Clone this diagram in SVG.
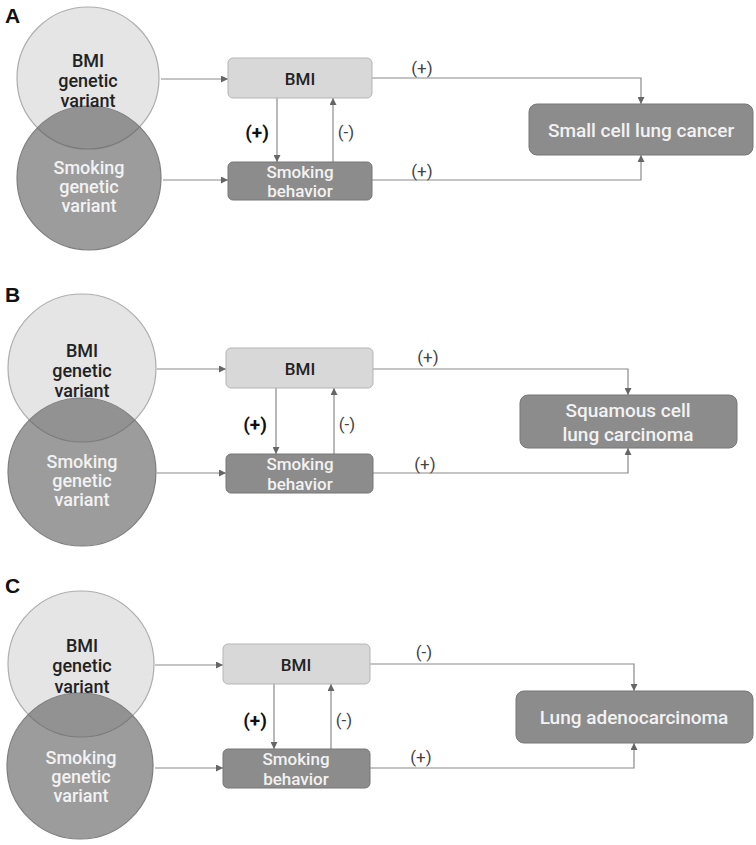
<svg xmlns="http://www.w3.org/2000/svg" width="756" height="845" viewBox="0 0 756 845">
<defs>
<marker id="ah" viewBox="0 0 8 8" refX="8" refY="4" markerWidth="7" markerHeight="7" markerUnits="userSpaceOnUse" orient="auto">
<path d="M0,0 L8,4 L0,8 z" fill="#666"/>
</marker>
<style>
.panel{font-family:"Liberation Sans",Arial,sans-serif;font-weight:bold;font-size:21px;fill:#111}
.c1{fill:#e5e5e5;stroke:#adadad;stroke-width:1.2}
.c2{fill:#5a5a5a;fill-opacity:0.6;stroke:#7e7e7e;stroke-width:1.2}
.t{font-family:Roboto,"Noto Sans",sans-serif;font-size:17px;font-weight:500;text-anchor:middle;dominant-baseline:central}
.ct{font-size:18px}
.big{font-size:19px}
.dk{fill:#222}
.wt{fill:#f2f2f2}
.b1{fill:#d8d8d8;stroke:#b5b5b5;stroke-width:1}
.b2{fill:#8c8c8c;stroke:#777;stroke-width:1}
.ln{fill:none;stroke:#8a8a8a;stroke-width:1.2}
.lb{font-family:Roboto,"Noto Sans",sans-serif;font-size:17px;fill:#444;text-anchor:middle;dominant-baseline:central}
.lbb{font-family:Roboto,"Noto Sans",sans-serif;font-size:19px;font-weight:bold;fill:#111;text-anchor:middle;dominant-baseline:central}
</style>
</defs>
<rect width="756" height="845" fill="#fff"/>

<!-- Panel A -->
<text class="panel" x="5" y="23">A</text>
<g id="connectors-A">
<path class="ln" d="M161,79 H228" marker-end="url(#ah)"/>
<path class="ln" d="M163,180 H228" marker-end="url(#ah)"/>
<path class="ln" d="M277,98 V162" marker-end="url(#ah)"/>
<path class="ln" d="M333,162 V98" marker-end="url(#ah)"/>
<path class="ln" d="M372,78 H641 V104" marker-end="url(#ah)"/>
<path class="ln" d="M372,180 H641 V155" marker-end="url(#ah)"/>
<text class="lbb" x="257" y="132">(+)</text>
<text class="lb" x="346" y="132">(-)</text>
<text class="lb" x="422" y="68">(+)</text>
<text class="lb" x="422" y="171">(+)</text>
</g>
<g id="A-bmi-gv"><circle class="c1" cx="88" cy="78" r="71"/></g>
<g id="A-smk-gv"><circle class="c2" cx="89" cy="178" r="72"/></g>
<text class="t ct dk" x="88" y="60">BMI</text>
<text class="t ct dk" x="88" y="80">genetic</text>
<text class="t ct dk" x="88" y="100">variant</text>
<text class="t ct wt" x="89" y="167">Smoking</text>
<text class="t ct wt" x="89" y="186">genetic</text>
<text class="t ct wt" x="89" y="205">variant</text>
<g id="A-bmi"><rect class="b1" x="228" y="58" width="144" height="40" rx="5"/><text class="t dk" x="300" y="79">BMI</text></g>
<g id="A-smk"><rect class="b2" x="228" y="162" width="144" height="38" rx="5"/><text class="t wt" x="300" y="172">Smoking</text><text class="t wt" x="300" y="191">behavior</text></g>
<g id="A-out"><rect class="b2" x="529" y="104" width="224" height="51" rx="8"/><text class="t big wt" x="641" y="130">Small cell lung cancer</text></g>

<!-- Panel B -->
<text class="panel" x="5" y="302">B</text>
<g id="connectors-B">
<path class="ln" d="M157,369 H226" marker-end="url(#ah)"/>
<path class="ln" d="M157,473 H226" marker-end="url(#ah)"/>
<path class="ln" d="M276,388 V454" marker-end="url(#ah)"/>
<path class="ln" d="M334,454 V388" marker-end="url(#ah)"/>
<path class="ln" d="M373,369 H628 V395" marker-end="url(#ah)"/>
<path class="ln" d="M373,473 H628 V448" marker-end="url(#ah)"/>
<text class="lbb" x="255" y="424">(+)</text>
<text class="lb" x="347" y="424">(-)</text>
<text class="lb" x="428" y="357">(+)</text>
<text class="lb" x="425" y="464">(+)</text>
</g>
<g id="B-bmi-gv"><circle class="c1" cx="82" cy="368" r="74"/></g>
<g id="B-smk-gv"><circle class="c2" cx="82" cy="472" r="74"/></g>
<text class="t ct dk" x="82" y="350">BMI</text>
<text class="t ct dk" x="82" y="370">genetic</text>
<text class="t ct dk" x="82" y="390">variant</text>
<text class="t ct wt" x="82" y="461">Smoking</text>
<text class="t ct wt" x="82" y="480">genetic</text>
<text class="t ct wt" x="82" y="499">variant</text>
<g id="B-bmi"><rect class="b1" x="226" y="348" width="147" height="40" rx="5"/><text class="t dk" x="300" y="369">BMI</text></g>
<g id="B-smk"><rect class="b2" x="226" y="454" width="147" height="39" rx="5"/><text class="t wt" x="300" y="464">Smoking</text><text class="t wt" x="300" y="484">behavior</text></g>
<g id="B-out"><rect class="b2" x="520" y="395" width="217" height="53" rx="8"/><text class="t big wt" x="628" y="410">Squamous cell</text><text class="t big wt" x="628" y="434">lung carcinoma</text></g>

<!-- Panel C -->
<text class="panel" x="5" y="593">C</text>
<g id="connectors-C">
<path class="ln" d="M155,665 H223" marker-end="url(#ah)"/>
<path class="ln" d="M155,768 H223" marker-end="url(#ah)"/>
<path class="ln" d="M274,684 V749" marker-end="url(#ah)"/>
<path class="ln" d="M331,749 V684" marker-end="url(#ah)"/>
<path class="ln" d="M370,664 H634 V691" marker-end="url(#ah)"/>
<path class="ln" d="M370,768 H634 V743" marker-end="url(#ah)"/>
<text class="lbb" x="255" y="720">(+)</text>
<text class="lb" x="344" y="720">(-)</text>
<text class="lb" x="424" y="652">(-)</text>
<text class="lb" x="421" y="757">(+)</text>
</g>
<g id="C-bmi-gv"><circle class="c1" cx="81" cy="664" r="73"/></g>
<g id="C-smk-gv"><circle class="c2" cx="80" cy="766" r="73"/></g>
<text class="t ct dk" x="82" y="645">BMI</text>
<text class="t ct dk" x="82" y="665">genetic</text>
<text class="t ct dk" x="82" y="686">variant</text>
<text class="t ct wt" x="81" y="757">Smoking</text>
<text class="t ct wt" x="81" y="776">genetic</text>
<text class="t ct wt" x="81" y="795">variant</text>
<g id="C-bmi"><rect class="b1" x="223" y="644" width="147" height="40" rx="5"/><text class="t dk" x="296" y="665">BMI</text></g>
<g id="C-smk"><rect class="b2" x="223" y="749" width="147" height="39" rx="5"/><text class="t wt" x="296" y="759">Smoking</text><text class="t wt" x="296" y="779">behavior</text></g>
<g id="C-out"><rect class="b2" x="516" y="691" width="237" height="52" rx="8"/><text class="t big wt" x="634" y="717">Lung adenocarcinoma</text></g>
</svg>
